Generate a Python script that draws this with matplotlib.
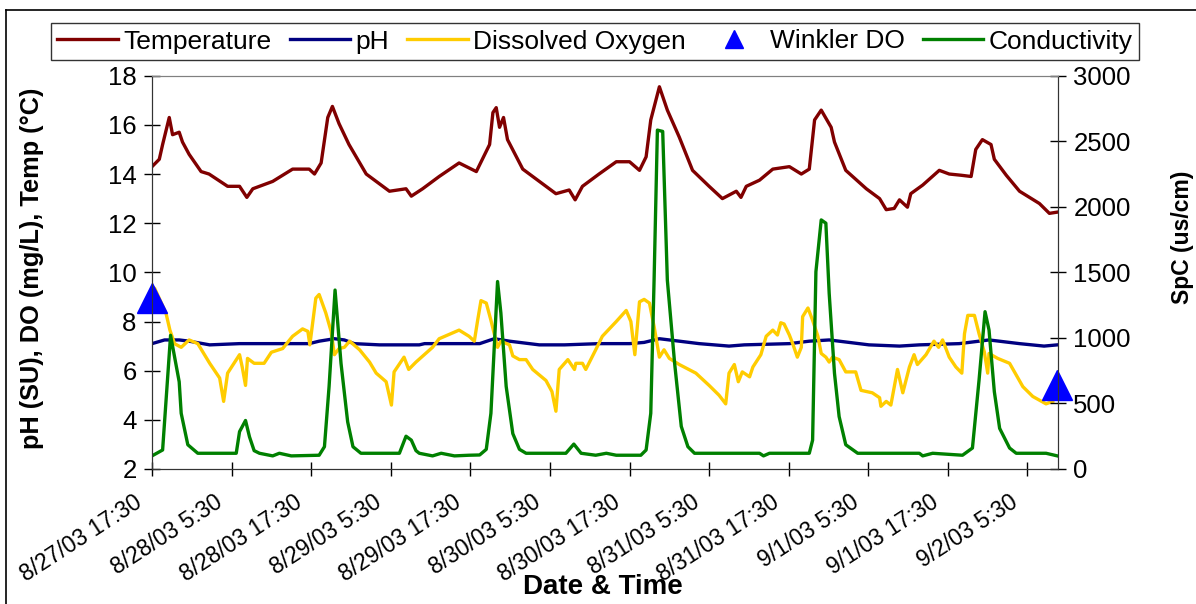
import numpy as np
import pandas as pd
import matplotlib
matplotlib.use("Agg")
import matplotlib.pyplot as plt
import matplotlib.dates as mdates
import matplotlib.transforms as mtransforms
from matplotlib.lines import Line2D
from matplotlib.ticker import FuncFormatter

plt.rcParams['font.family'] = ['Liberation Sans', 'DejaVu Sans']

start = pd.Timestamp('2003-08-27 17:30')

# hours since start
temp_h = [0, 1.1, 1.6, 2.6, 3.1, 4.1, 4.6, 5.6, 7.4, 8.6, 11.4, 13.2, 14.3, 15.2, 18.2, 21.2,
          23.7, 24.5, 25.5, 26.5, 27.2, 28.2, 29.7, 32.3, 35.8, 38.3, 39.1, 40.8, 43.3, 46.3,
          48.9, 50.9, 51.4, 51.9, 52.4, 53.0, 53.6, 55.9, 57.9, 60.9, 62.9, 63.8, 64.9, 67.4,
          70.0, 72.0, 73.5, 74.5, 75.2, 76.5, 77.7, 79.5, 81.5, 84.0, 86.0, 88.1, 88.8, 89.6,
          91.6, 93.6, 96.1, 97.9, 99.1, 99.9, 100.9, 102.4, 102.9, 104.6, 107.7, 109.7, 110.7,
          111.9, 112.7, 113.9, 114.4, 116.2, 118.7, 120.2, 122.0, 123.5, 124.2, 125.2, 126.5,
          127.0, 128.8, 130.8, 133.8, 135.3, 136.5]
temp = [14.3, 14.6, 15.2, 16.3, 15.6, 15.7, 15.3, 14.8, 14.1, 14.0, 13.5, 13.5, 13.05, 13.4, 13.7, 14.2,
        14.2, 14.0, 14.45, 16.3, 16.75, 16.05, 15.2, 14.0, 13.3, 13.4, 13.1, 13.4, 13.9, 14.45,
        14.1, 15.2, 16.5, 16.7, 15.9, 16.3, 15.4, 14.2, 13.8, 13.2, 13.35, 12.95, 13.5, 14.0,
        14.5, 14.5, 14.15, 14.7, 16.2, 17.55, 16.6, 15.5, 14.15, 13.5, 13.0, 13.3, 13.05, 13.5,
        13.75, 14.2, 14.3, 14.0, 14.2, 16.2, 16.6, 15.9, 15.3, 14.15, 13.4, 13.0, 12.55,
        12.6, 12.95, 12.65, 13.2, 13.55, 14.15, 14.0, 13.95, 13.9, 15.0, 15.4, 15.2,
        14.6, 13.95, 13.3, 12.8, 12.4, 12.45]

ph_h = [0, 1.9, 4.1, 5.6, 8.7, 13.2, 23.7, 25.2, 27.5, 29.0, 30.5, 34.3, 40.3, 41.1, 49.4, 51.6,
        53.9, 58.4, 62.2, 67.4, 72.0, 74.2, 76.5, 79.5, 82.5, 87.0, 89.3, 96.1, 99.1, 102.1,
        105.1, 108.1, 112.7, 115.7, 121.7, 124.7, 126.2, 130.8, 134.5, 136.5]
ph = [7.1, 7.25, 7.25, 7.2, 7.05, 7.1, 7.1, 7.2, 7.3, 7.25, 7.1, 7.05, 7.05, 7.1, 7.1, 7.3,
      7.2, 7.05, 7.05, 7.1, 7.1, 7.15, 7.3, 7.2, 7.1, 7.0, 7.05, 7.1, 7.2, 7.25,
      7.15, 7.05, 7.0, 7.05, 7.1, 7.2, 7.25, 7.1, 7.0, 7.05]

do_h = [0, 0.4, 2.1, 2.7, 3.4, 4.4, 5.6, 6.9, 8.7, 10.2, 10.8, 11.4, 13.2, 13.6, 14.1, 14.4, 15.4,
        16.9, 18.0, 19.7, 21.2, 22.7, 23.5, 23.8, 24.7, 25.2, 26.2, 27.0, 27.5, 28.2, 29.0, 29.8,
        31.3, 32.8, 33.8, 35.3, 36.1, 36.5, 38.0, 38.7, 39.8, 42.3, 43.3, 46.3, 47.8, 48.6, 49.1,
        49.6, 50.4, 51.1, 52.1, 52.6, 53.9, 54.4, 55.4, 56.4, 57.4, 59.4, 60.3, 60.9, 61.4, 62.7,
        63.7, 63.9, 64.9, 65.4, 66.9, 67.9, 70.0, 71.5, 72.2, 72.8, 73.5, 74.2, 75.0, 75.7, 76.5,
        77.2, 78.0, 79.5, 82.0, 84.0, 85.5, 86.5, 87.0, 87.8, 88.4, 89.0, 90.1, 90.6, 91.8, 92.6,
        93.6, 94.3, 94.8, 95.3, 96.1, 96.6, 97.3, 97.9, 98.1, 98.9, 99.6, 100.4, 100.9, 101.6,
        102.1, 102.6, 103.6, 104.6, 106.1, 106.9, 108.6, 109.7, 109.9, 110.7, 111.4, 112.4, 113.2,
        114.2, 114.9, 115.4, 116.7, 117.9, 118.6, 119.2, 120.2, 121.2, 122.1, 122.5, 123.0, 124.0,
        124.7, 125.5, 126.0, 126.2, 127.5, 129.3, 131.3, 132.8, 134.8, 135.8]
do = [9.4, 9.35, 8.35, 7.65, 7.1, 6.95, 7.25, 7.1, 6.3, 5.7, 4.75, 5.9, 6.65, 6.15, 5.4, 6.5, 6.3,
      6.3, 6.75, 6.9, 7.4, 7.7, 7.6, 7.05, 8.95, 9.1, 8.35, 7.6, 6.65, 6.9, 6.95, 7.2,
      6.85, 6.35, 5.9, 5.55, 4.6, 5.95, 6.55, 6.05, 6.35, 6.95, 7.3, 7.65, 7.4, 7.2, 8.05,
      8.85, 8.75, 8.05, 6.95, 7.2, 7.05, 6.6, 6.45, 6.45, 6.05, 5.6, 5.15, 4.35, 6.05, 6.45,
      6.05, 6.3, 6.3, 6.05, 6.85, 7.4, 8.0, 8.45, 8.0, 6.65, 8.8, 8.9, 8.75, 7.8, 6.55,
      6.85, 6.5, 6.25, 5.9, 5.4, 5.0, 4.65, 5.9, 6.25, 5.55, 5.95, 5.75, 6.15, 6.65, 7.4,
      7.65, 7.45, 7.95, 7.9, 7.45, 7.1, 6.55, 6.95, 8.2, 8.55, 8.05, 7.4, 6.7, 6.55,
      6.35, 6.55, 6.45, 5.95, 5.95, 5.2, 5.1, 4.9, 4.55, 4.75, 4.6, 6.05, 5.1,
      6.15, 6.65, 6.25, 6.65, 7.2, 6.95, 7.25, 6.55, 6.15, 5.9, 7.5, 8.25, 8.25,
      7.5, 6.75, 5.9, 6.7, 6.5, 6.3, 5.35, 4.95, 4.65, 4.75]

winkler_h = [0, 136.5]
winkler = [8.95, 5.4]

spc_h = [0, 1.6, 2.8, 4.1, 4.4, 5.4, 6.9, 12.7, 13.2, 14.1, 14.7, 15.4, 16.2, 18.2, 19.2, 21.0,
         25.2, 26.0, 26.7, 27.6, 28.5, 29.5, 30.3, 31.5, 37.3, 38.3, 39.1, 39.8, 40.3, 42.3, 43.6,
         45.6, 47.8, 49.4, 50.4, 51.1, 52.1, 52.6, 53.4, 54.4, 55.4, 56.4, 62.4, 63.6, 64.7, 66.9,
         68.5, 70.0, 73.7, 74.5, 75.2, 75.7, 76.2, 77.0, 77.7, 78.8, 79.8, 80.8, 81.8, 91.6, 92.2,
         93.1, 99.1, 99.6, 100.1, 100.9, 101.6, 102.1, 102.9, 103.6, 104.6, 106.4, 115.7, 116.2,
         117.7, 122.2, 123.7, 124.7, 125.6, 126.2, 127.0, 127.8, 129.3, 130.3, 134.8, 136.5]
spc = [100, 145, 1020, 665, 425, 185, 120, 120, 285, 370, 245, 140, 120, 100, 120, 100,
       105, 170, 630, 1365, 805, 360, 170, 120, 120, 250, 220, 140, 120, 100, 120,
       100, 105, 107, 150, 425, 1430, 1190, 630, 270, 150, 120, 120, 190, 120, 105,
       120, 105, 105, 145, 425, 1440, 2585, 2575, 1440, 805, 325, 170, 120, 120, 100,
       120, 120, 220, 1505, 1900, 1875, 1340, 730, 400, 185, 120, 120, 100,
       120, 105, 160, 680, 1200, 1060, 590, 310, 160, 120, 120, 100]


def to_time(hours):
    return start + pd.to_timedelta(np.array(hours), unit='h')


fig = plt.figure(figsize=(11.96, 6.04), dpi=100)
ax = fig.add_axes([152 / 1196, 1 - 469 / 604, 906 / 1196, 393.3 / 604])
ax2 = ax.twinx()

lw = 2.4
ax.plot(to_time(temp_h), temp, color='#800000', lw=lw, label='Temperature')
ax.plot(to_time(ph_h), ph, color='#000080', lw=lw, label='pH')
ax.plot(to_time(do_h), do, color='#FFCC00', lw=lw, label='Dissolved Oxygen')
ax.plot(to_time(winkler_h), winkler, ls='none', marker='^', ms=21, color='#0000FF',
        clip_on=False, zorder=5, label='Winkler DO')
ax2.plot(to_time(spc_h), spc, color='#008000', lw=lw, label='Conductivity')

ax.set_xlim(start, start + pd.Timedelta(hours=136.6))
ax.set_ylim(2, 18)
ax.set_yticks(range(2, 19, 2))
ax2.set_ylim(0, 3000)
ax2.set_yticks(range(0, 3001, 500))

ax.set_xticks(to_time(np.arange(0, 133, 12)))
ax.xaxis.set_major_formatter(FuncFormatter(
    lambda v, p: (lambda d: f"{d.month}/{d.day}/{d:%y} {d.hour}:{d:%M}")(mdates.num2date(v))))

ax.tick_params(axis='x', direction='inout', length=10, width=1, labelsize=16.5, pad=10)
ax.tick_params(axis='y', direction='inout', length=12, width=1, labelsize=18.5, pad=5)
ax2.tick_params(axis='y', direction='inout', length=12, width=1, labelsize=18.5, pad=5)

shift = mtransforms.ScaledTranslation(-18 / 100, -1 / 100, fig.dpi_scale_trans)
for lab in ax.get_xticklabels():
    lab.set_rotation(33)
    lab.set_rotation_mode('anchor')
    lab.set_ha('right')
    lab.set_va('top')
    lab.set_transform(lab.get_transform() + shift)

for a in (ax, ax2):
    a.spines['top'].set_color('#808080')
    a.spines['left'].set_color('#333333')
    a.spines['right'].set_color('#333333')
    a.spines['bottom'].set_color('#333333')

fig.text(32 / 1196, 1 - 268 / 604, 'pH (SU), DO (mg/L), Temp (°C)', rotation=90,
         ha='center', va='center', fontsize=18.3, fontweight='bold')
fig.text(1182 / 1196, 1 - 237 / 604, 'SpC (us/cm)', rotation=90,
         ha='center', va='center', fontsize=16.5, fontweight='bold')
fig.text(603 / 1196, 1 - 587 / 604, 'Date & Time', ha='center', va='center',
         fontsize=20, fontweight='bold')

h1, l1 = ax.get_legend_handles_labels()
h2, l2 = ax2.get_legend_handles_labels()
leg = fig.legend(h1 + h2, l1 + l2, loc='center', bbox_to_anchor=(595 / 1196, 1 - 41.5 / 604),
                 ncol=5, fontsize=19, frameon=True, fancybox=False, handlelength=2.3,
                 handletextpad=0.2, columnspacing=0.68, borderpad=0.25, borderaxespad=0,
                 markerscale=0.65)
leg.get_frame().set_edgecolor('black')
leg.get_frame().set_linewidth(1)

# outer chart frame
fig.add_artist(Line2D([6 / 1196, 6 / 1196], [0, 1 - 10 / 604], color='black', lw=1.2))
fig.add_artist(Line2D([6 / 1196, 1], [1 - 10 / 604, 1 - 10 / 604], color='black', lw=1.2))

fig.savefig('out.png', dpi=100)
